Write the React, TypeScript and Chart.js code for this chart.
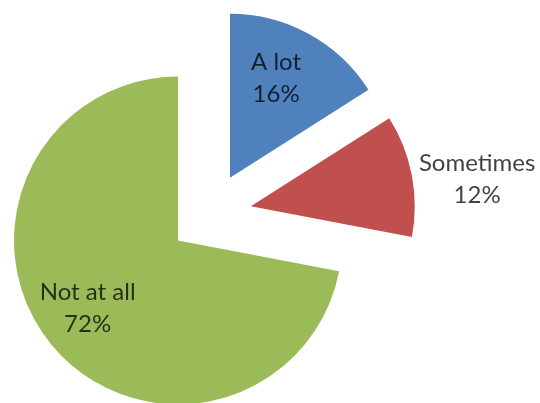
import React, { useEffect, useRef } from "react";
import { Chart, registerables } from "chart.js";

Chart.register(...registerables);

const categories = ["A lot", "Sometimes", "Not at all"];
const values = [16, 12, 72];
const colors = ["#4F81BD", "#C0504D", "#9BBB59"];

// label placement style (radial factor of radius, angular shift in degrees)
const labelRadius = [0.67, 1.39, 0.69];
const labelShiftDeg = [-4, 4, 2.6];

const EXPLODE = 41.5;
const RADIUS = 164;
const FONT = "24px Lato";
const LINE_GAP = 32;

const explodePlugin = {
  id: "explodeSlices",
  beforeDatasetDraw(chart: any, args: any) {
    const ctx = chart.ctx;
    args.meta.data.forEach((arc: any) => {
      const half = (arc.startAngle + arc.endAngle) / 2;
      ctx.save();
      ctx.translate(Math.cos(half) * EXPLODE, Math.sin(half) * EXPLODE);
      arc.draw(ctx);
      ctx.restore();
    });
    return false;
  },
  afterDatasetsDraw(chart: any) {
    const ctx = chart.ctx;
    const meta = chart.getDatasetMeta(0);
    const data = chart.data.datasets[0].data as number[];
    const total = data.reduce((a, b) => a + b, 0);
    ctx.save();
    ctx.font = FONT;
    ctx.fillStyle = "rgba(0,0,0,0.75)";
    ctx.textAlign = "center";
    ctx.textBaseline = "middle";
    meta.data.forEach((arc: any, i: number) => {
      const half = (arc.startAngle + arc.endAngle) / 2;
      const ax = arc.x + Math.cos(half) * EXPLODE;
      const ay = arc.y + Math.sin(half) * EXPLODE;
      const a = half + (labelShiftDeg[i] * Math.PI) / 180;
      const r = arc.outerRadius * labelRadius[i];
      const x = ax + Math.cos(a) * r;
      const y = ay + Math.sin(a) * r;
      const pct = Math.round((data[i] / total) * 100) + "%";
      ctx.fillText(chart.data.labels[i], x, y - LINE_GAP / 2);
      ctx.fillText(pct, x, y + LINE_GAP / 2);
    });
    ctx.restore();
  },
};

export default function App() {
  const ref = useRef<HTMLCanvasElement | null>(null);
  useEffect(() => {
    if (!ref.current) return;
    const chart = new Chart(ref.current, {
      type: "pie",
      data: {
        labels: categories,
        datasets: [
          {
            data: values,
            backgroundColor: colors,
            borderWidth: 0,
            clip: false as any,
          },
        ],
      },
      options: {
        animation: false,
        responsive: false,
        radius: RADIUS,
        layout: { padding: { left: 0, right: 120, top: 25, bottom: 0 } },
        plugins: {
          legend: { display: false },
          tooltip: { enabled: false },
        },
      } as any,
      plugins: [explodePlugin],
    });
    return () => chart.destroy();
  }, []);
  return (
    <div style={{ position: "fixed", left: 0, top: 0, width: 540, height: 403, background: "#fff" }}>
      <canvas ref={ref} width={540} height={403} style={{ display: "block" }} />
    </div>
  );
}
